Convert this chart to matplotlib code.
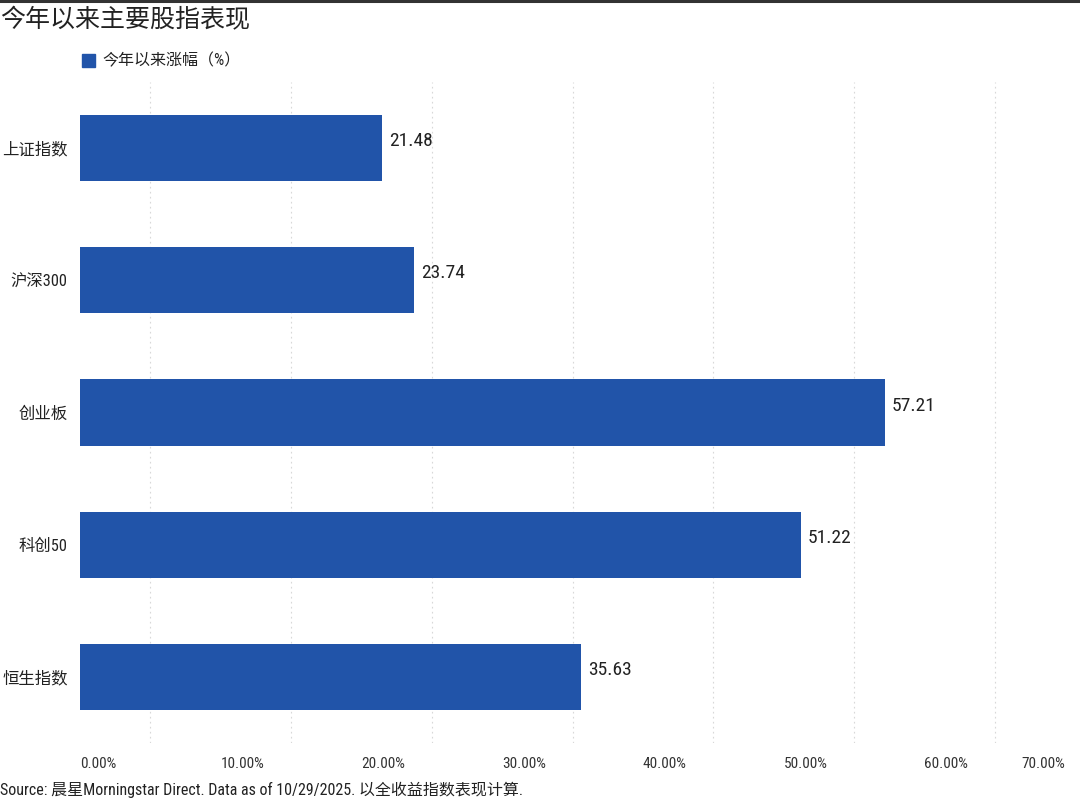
import numpy as np
import matplotlib.pyplot as plt
from matplotlib import font_manager
from matplotlib.ticker import FixedLocator, FuncFormatter

# pick a condensed latin font if one is installed
installed = {f.name for f in font_manager.fontManager.ttflist}
narrow = [n for n in ['Liberation Sans Narrow', 'Roboto Condensed', 'DejaVu Sans Condensed',
                      'Open Sans Condensed'] if n in installed]
plt.rcParams['font.family'] = narrow[:1] + ['Noto Sans CJK SC', 'DejaVu Sans']

# data
categories = ['上证指数', '沪深300', '创业板', '科创50', '恒生指数']
ytd_returns = [21.48, 23.74, 57.21, 51.22, 35.63]
series_name = '今年以来涨幅（%）'
title = '今年以来主要股指表现'
source = 'Source: 晨星Morningstar Direct. Data as of 10/29/2025. 以全收益指数表现计算.'

bar_color = '#2154A9'
text_color = '#222222'

fig = plt.figure(figsize=(10.8, 8.01), dpi=100)
ax = fig.add_axes([0.0741, 0.0724, 0.912, 0.8252])

y = np.arange(len(categories))
bars = ax.barh(y, ytd_returns, height=0.5, color=bar_color, zorder=3)

for rect, v in zip(bars, ytd_returns):
    ax.annotate(f'{v:.2f}', (rect.get_width(), rect.get_y() + rect.get_height() / 2),
                xytext=(5, 5), textcoords='offset points',
                ha='left', va='center', fontsize=14, color=text_color)

ax.set_xlim(0, 70)
ax.set_ylim(len(categories) - 0.5, -0.5)
ax.set_yticks(y)
ax.set_yticklabels(categories, fontsize=11.8, color=text_color)

# dotted gridlines every 5, none at zero or at the right edge
ax.xaxis.set_minor_locator(FixedLocator(np.arange(5, 70, 5)))
ax.grid(axis='x', which='minor', color='#d8d8d8', linestyle=(0, (1.5, 3)), linewidth=0.8, zorder=0)

ax.set_xticks(np.arange(0, 71, 10))
ax.xaxis.set_major_formatter(FuncFormatter(lambda v, p: f'{v:.2f}%'))
ax.tick_params(axis='x', labelsize=11, colors='#333333', length=0, pad=10, which='both')
ax.tick_params(axis='y', length=0, pad=9)
for lbl in ax.get_xticklabels():
    lbl.set_horizontalalignment('left')
ax.get_xticklabels()[-1].set_horizontalalignment('right')
for s in ax.spines.values():
    s.set_visible(False)

# legend
fig.patches.append(plt.Rectangle((82 / 1080, 1 - 67 / 801), 13 / 1080, 13 / 801,
                                 transform=fig.transFigure, color=bar_color))
fig.text(102 / 1080, 1 - 61 / 801, series_name, fontsize=11.5, color=text_color,
         ha='left', va='center')

# title, source, top rule
fig.text(0.0, 1 - 20 / 801, title, fontsize=18, color=text_color, ha='left', va='center')
fig.text(0.0, 1 - 790 / 801, source, fontsize=11.5, color=text_color, ha='left', va='center')
fig.add_artist(plt.Line2D([0, 1], [1 - 1 / 801, 1 - 1 / 801], transform=fig.transFigure,
                          color='#333333', linewidth=2.2))

fig.savefig('out.png', dpi=100)
